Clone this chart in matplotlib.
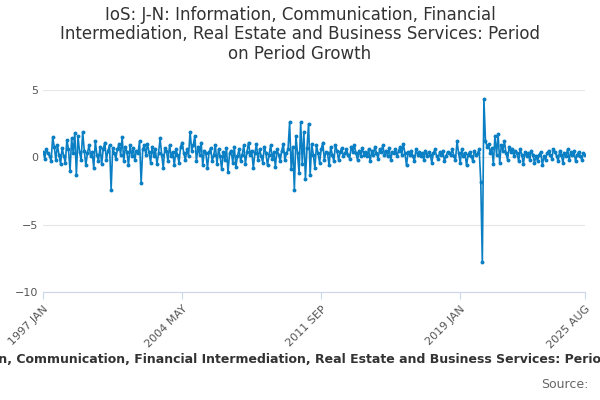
import matplotlib
matplotlib.use("Agg")
import matplotlib.pyplot as plt
import pandas as pd

title = "IoS: J-N: Information, Communication, Financial\nIntermediation, Real Estate and Business Services: Period\non Period Growth"
legend_text = "IoS: J-N: Information, Communication, Financial Intermediation, Real Estate and Business Services: Period on Period Growth"

# monthly values, one row per year, 1997 JAN .. 2025 AUG
values = [
    0.4,-0.1,0.6,0.3,0.1,-0.3,1.5,0.8,-0.2,0.9,0.2,-0.5,
    0.7,0.1,-0.4,1.3,0.6,-1.0,1.4,0.3,1.8,-1.3,1.6,0.4,
    -0.2,1.9,0.5,-0.6,0.3,0.9,0.1,0.4,-0.8,1.2,0.2,-0.3,
    0.8,-0.5,0.6,1.1,-0.2,0.5,0.9,-2.4,0.7,0.3,-0.1,0.6,
    1.0,0.2,1.5,-0.3,0.8,0.4,-0.6,0.9,0.1,0.7,-0.2,0.5,
    0.3,1.2,-1.9,0.6,0.9,0.2,1.0,0.4,-0.4,0.8,0.1,0.6,
    -0.5,0.3,1.4,0.2,-0.8,0.7,0.5,-0.3,0.9,0.1,0.4,-0.6,
    0.6,0.2,-0.4,0.8,1.1,0.3,-0.2,0.6,0.1,1.9,0.5,0.9,
    1.6,-0.3,0.8,0.2,1.1,-0.6,0.5,0.3,-0.8,0.4,0.7,-0.3,
    0.2,0.9,-0.5,0.6,0.1,-0.9,0.4,-0.2,0.7,-1.1,0.3,0.5,
    -0.4,0.8,-0.7,0.1,0.6,-0.3,0.2,0.9,-0.5,0.4,1.1,0.2,
    0.5,-0.8,0.3,1.0,-0.2,0.6,0.1,-0.4,0.8,0.3,-0.6,0.2,
    0.9,-0.1,0.4,-0.7,0.6,0.2,-0.3,0.5,1.0,-0.2,0.3,0.6,
    2.6,-0.9,0.8,-2.4,1.6,0.3,-1.2,2.6,-0.5,1.9,-1.6,0.7,
    2.5,-1.3,1.0,0.2,-0.8,0.9,0.3,-0.4,0.6,1.1,-0.2,0.4,
    0.3,-0.6,0.8,0.2,-0.3,0.9,0.5,-0.2,0.4,0.7,0.1,0.3,
    0.6,0.2,-0.1,0.8,0.4,0.9,0.3,-0.2,0.5,0.1,0.7,0.2,
    0.4,0.1,0.6,-0.3,0.5,0.2,0.8,0.3,-0.1,0.6,0.4,0.9,
    0.2,0.5,0.1,0.7,-0.2,0.4,0.3,0.6,0.1,0.5,0.8,0.2,
    1.0,0.3,-0.6,0.4,0.2,0.5,0.1,-0.3,0.6,0.2,0.4,0.1,
    0.3,-0.2,0.5,0.1,0.4,0.2,-0.4,0.3,0.6,0.1,-0.1,0.4,
    0.2,0.5,-0.3,0.1,0.4,0.3,0.2,0.6,0.1,-0.2,1.2,0.3,
    -0.4,0.6,0.1,0.3,-0.6,0.2,0.4,0.1,-0.3,0.5,0.2,0.3,
    0.6,-1.8,-7.8,4.3,1.2,0.8,1.0,0.3,0.7,-0.5,1.6,0.2,
    1.7,-0.4,0.9,0.5,1.2,0.3,-0.2,0.8,0.4,0.6,0.1,0.5,
    0.3,-0.3,0.6,0.2,-0.5,0.4,0.1,0.3,-0.2,0.5,0.2,-0.4,
    0.1,-0.3,0.2,0.4,-0.6,0.1,-0.2,0.3,0.5,0.2,-0.1,0.6,
    0.4,0.1,-0.3,0.5,0.2,-0.4,0.3,0.1,0.6,-0.2,0.4,0.2,
    0.5,-0.3,0.2,0.4,0.1,-0.2,0.3,0.2,
]
dates = pd.date_range("1997-01-01", periods=len(values), freq="MS")
tick_labels = ["1997 JAN", "2004 MAY", "2011 SEP", "2019 JAN", "2025 AUG"]
tick_pos = [dates.get_loc(pd.Timestamp(pd.to_datetime(t, format="%Y %b"))) for t in tick_labels]

fig = plt.figure(figsize=(6, 4), dpi=100)
ax = fig.add_axes([0.072, 0.27, 0.903, 0.505])
x = range(len(values))
ax.plot(x, values, color="#0a7fc4", lw=1.2, marker="o", ms=1.8)
ax.set_ylim(-10, 5)
ax.set_yticks([5, 0, -5, -10])
ax.set_xlim(0, len(values) - 1)
ax.set_xticks(tick_pos)
ax.set_xticklabels(tick_labels, rotation=45, ha="right", rotation_mode="anchor", color="#555555", fontsize=8)
ax.tick_params(axis="y", length=0, labelsize=8, labelcolor="#555555")
ax.tick_params(axis="x", length=5, color="#ccd6eb")
ax.grid(axis="y", color="#e6e6e6", lw=0.8)
for s in ["top", "right", "left"]:
    ax.spines[s].set_visible(False)
ax.spines["bottom"].set_color("#ccd6eb")
ax.set_axisbelow(True)

fig.text(0.5, 0.985, title, ha="center", va="top", fontsize=12, color="#333333", linespacing=1.1)
fig.text(0.5, 0.1, legend_text, ha="center", va="center", fontsize=9, fontweight="bold", color="#333333")
fig.text(0.98, 0.04, "Source:", ha="right", va="center", fontsize=9, color="#666666")
fig.savefig("out.png", dpi=100)
